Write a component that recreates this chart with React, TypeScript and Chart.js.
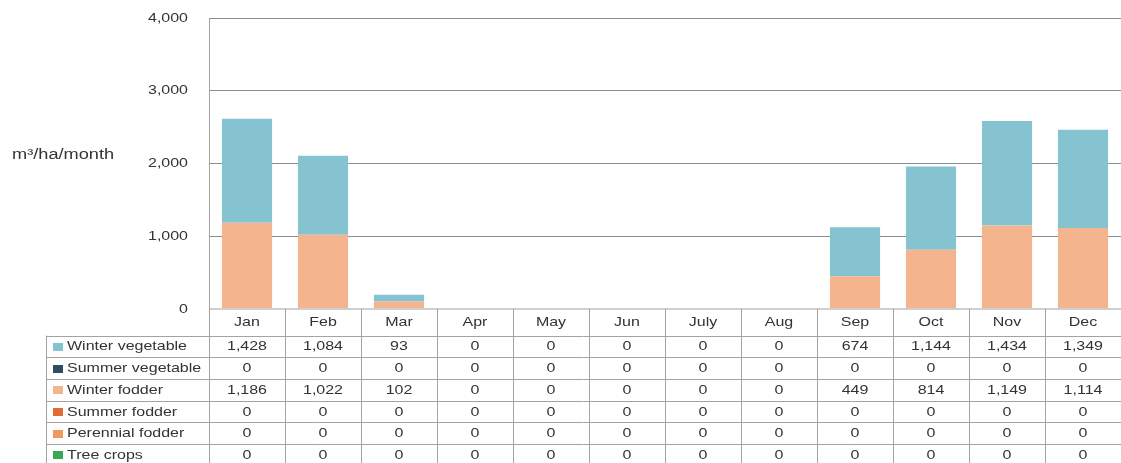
import React, { useEffect, useRef } from "react";
import { Chart, registerables } from "chart.js";

Chart.register(...registerables);

const months = ["Jan", "Feb", "Mar", "Apr", "May", "Jun", "July", "Aug", "Sep", "Oct", "Nov", "Dec"];
const winterVegetable = [1428, 1084, 93, 0, 0, 0, 0, 0, 674, 1144, 1434, 1349];
const summerVegetable = [0, 0, 0, 0, 0, 0, 0, 0, 0, 0, 0, 0];
const winterFodder = [1186, 1022, 102, 0, 0, 0, 0, 0, 449, 814, 1149, 1114];
const summerFodder = [0, 0, 0, 0, 0, 0, 0, 0, 0, 0, 0, 0];
const perennialFodder = [0, 0, 0, 0, 0, 0, 0, 0, 0, 0, 0, 0];
const treeCrops = [0, 0, 0, 0, 0, 0, 0, 0, 0, 0, 0, 0];
const yTitle = "m³/ha/month";

// table order (top to bottom)
const tableSeries = [
  { label: "Winter vegetable", data: winterVegetable, color: "#86C3D1" },
  { label: "Summer vegetable", data: summerVegetable, color: "#2F4D62" },
  { label: "Winter fodder", data: winterFodder, color: "#F4B48E" },
  { label: "Summer fodder", data: summerFodder, color: "#E06C34" },
  { label: "Perennial fodder", data: perennialFodder, color: "#F3965F" },
  { label: "Tree crops", data: treeCrops, color: "#36A955" },
];

const FONT = '13px "Liberation Sans", Arial, sans-serif';
const TEXT = "#333333";
const SX = 1.23;

function drawText(ctx: CanvasRenderingContext2D, text: string, x: number, y: number, align: CanvasTextAlign, font = FONT, sx = SX) {
  ctx.save();
  ctx.translate(x, y);
  ctx.scale(sx, 1);
  ctx.font = font;
  ctx.fillStyle = TEXT;
  ctx.textAlign = align;
  ctx.textBaseline = "middle";
  ctx.fillText(text, 0, 0);
  ctx.restore();
}

const fmt = (v: number) => v.toLocaleString("en-US");

const tablePlugin = {
  id: "dataTable",
  afterDraw(chart: any) {
    const ctx: CanvasRenderingContext2D = chart.ctx;
    const area = chart.chartArea;
    const xs = chart.scales.x;
    const ys = chart.scales.y;
    const left = area.left;
    const right = area.right;
    const n = months.length;
    const colW = (right - left) / n;
    const headerTop = area.bottom;
    const headerBottom = headerTop + 26.5;
    const rowH = 21.7;
    const tableLeft = 46;
    const H = chart.height;

    // y tick labels
    ys.ticks.forEach((t: any) => {
      drawText(ctx, fmt(t.value), 188, ys.getPixelForValue(t.value), "right");
    });
    // y title
    drawText(ctx, yTitle, 12, 155, "left", '14px "Liberation Sans", Arial, sans-serif', 1.3);

    ctx.save();
    ctx.strokeStyle = "#a3a3a3";
    ctx.lineWidth = 1;
    ctx.beginPath();
    // axis line
    ctx.moveTo(Math.round(left) + 0.5, area.top);
    ctx.lineTo(Math.round(left) + 0.5, H);
    // column separators
    for (let k = 1; k < n; k++) {
      const xx = Math.round(left + k * colW) + 0.5;
      ctx.moveTo(xx, headerTop);
      ctx.lineTo(xx, H);
    }
    // table left border
    ctx.moveTo(tableLeft + 0.5, headerBottom);
    ctx.lineTo(tableLeft + 0.5, H);
    // row lines
    for (let i = 0; i <= tableSeries.length; i++) {
      const yy = Math.round(headerBottom + i * rowH) + 0.5;
      ctx.moveTo(tableLeft, yy);
      ctx.lineTo(right, yy);
    }
    ctx.stroke();
    ctx.restore();

    // header
    months.forEach((m, i) => {
      drawText(ctx, m, xs.getPixelForValue(i), (headerTop + headerBottom) / 2 + 0.5, "center");
    });

    // rows
    tableSeries.forEach((s, r) => {
      const cy = headerBottom + r * rowH + rowH / 2 + 0.5;
      ctx.fillStyle = s.color;
      ctx.fillRect(53, Math.round(cy - 4), 10, 8);
      drawText(ctx, s.label, 67, cy, "left");
      s.data.forEach((v, i) => {
        drawText(ctx, fmt(v), xs.getPixelForValue(i), cy, "center");
      });
    });
  },
};

export default function App() {
  const ref = useRef<HTMLCanvasElement | null>(null);
  useEffect(() => {
    document.body.style.margin = "0";
    const stack = [...tableSeries].reverse();
    const chart = new Chart(ref.current as HTMLCanvasElement, {
      type: "bar",
      data: {
        labels: months,
        datasets: stack.map((s) => ({
          label: s.label,
          data: s.data,
          backgroundColor: s.color,
          borderWidth: 0,
          barPercentage: 0.66,
          categoryPercentage: 1,
        })),
      },
      options: {
        responsive: false,
        animation: false,
        devicePixelRatio: 1,
        layout: { padding: { top: 18, bottom: 154, left: 0, right: 0 } },
        plugins: { legend: { display: false }, tooltip: { enabled: false }, title: { display: false } },
        scales: {
          x: { stacked: true, display: false },
          y: {
            stacked: true,
            min: 0,
            max: 4000,
            ticks: { stepSize: 1000, display: false },
            border: { display: false },
            grid: {
              drawTicks: false,
              color: (c: any) => (c.tick && c.tick.value === 0 ? "#cfcfcf" : "#8c8c8c"),
              lineWidth: (c: any) => (c.tick && c.tick.value === 0 ? 2 : 1),
            },
            afterFit: (s: any) => {
              s.width = 209;
            },
          },
        },
      },
      plugins: [tablePlugin],
    });
    return () => chart.destroy();
  }, []);
  return (
    <div style={{ position: "absolute", left: 0, top: 0, width: 1121, height: 463 }}>
      <canvas ref={ref} width={1121} height={463} style={{ display: "block" }} />
    </div>
  );
}
